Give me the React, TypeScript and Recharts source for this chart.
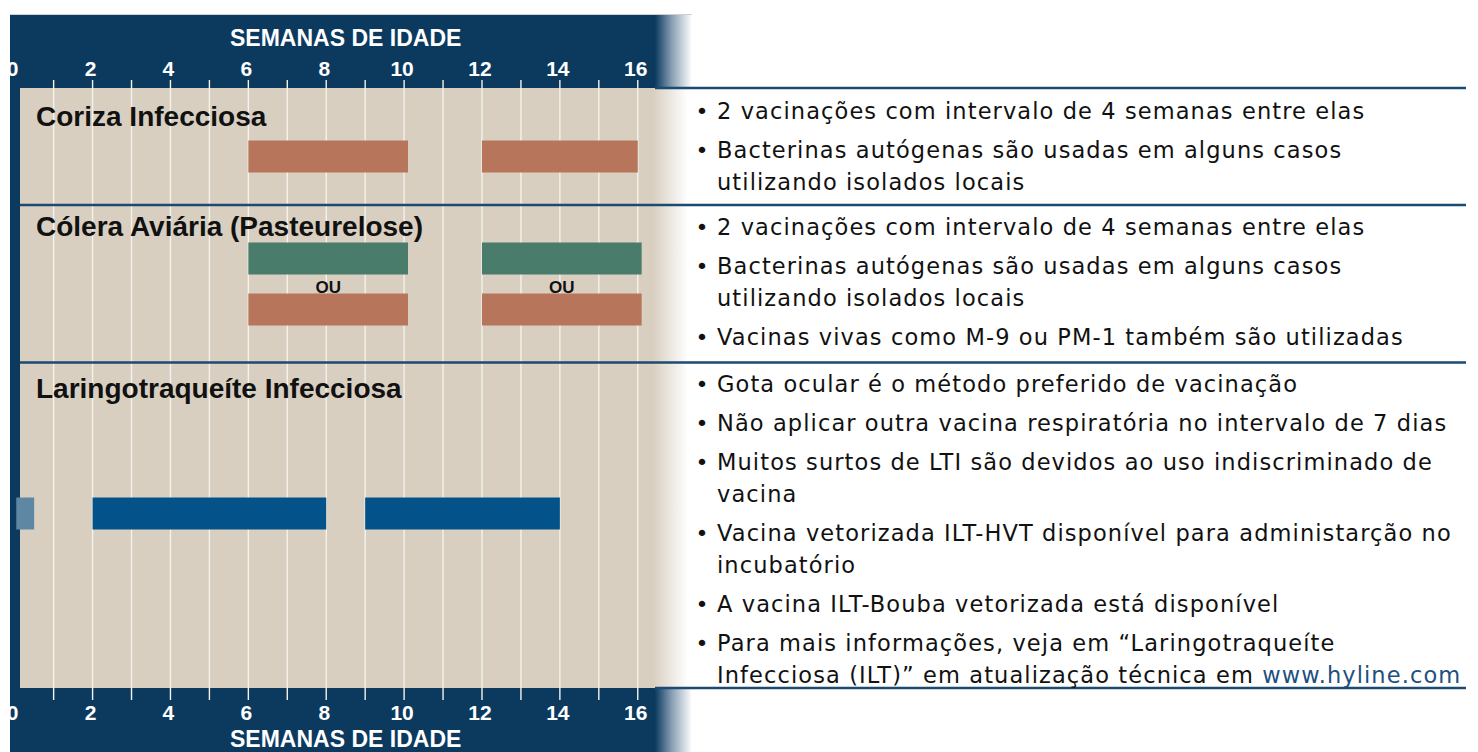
import { Bar, BarChart, CartesianGrid, Cell, LabelList, XAxis, YAxis } from 'recharts';

// linhas do quadro (de cima para baixo); as linhas "espaco" so separam as faixas
const linhas = ['coriza', 'espaco-a', 'colera-1', 'colera-2', 'espaco-b', 'espaco-c', 'espaco-d', 'lti'];

// semanas de idade de cada aplicação (início / fim)
const incubatorioInicio = [null, null, null, null, null, null, null, 0.04];
const incubatorioFim = [null, null, null, null, null, null, null, 0.5];
const primeiraInicio = [6, null, 6, 6, null, null, null, 2];
const primeiraFim = [10.1, null, 10.1, 10.1, null, null, null, 8];
const segundaInicio = [12, null, 12, 12, null, null, null, 9];
const segundaFim = [16, null, 16.1, 16.1, null, null, null, 14];
const rotuloEntre = [null, null, 'OU', null, null, null, null, null];

const semanasRotulo = [0, 2, 4, 6, 8, 10, 12, 14, 16];
const semanasGrade = [1, 2, 3, 4, 5, 6, 7, 8, 9, 10, 11, 12, 13, 14, 15, 16];

const doencas = ['Coriza Infecciosa', 'Cólera Aviária (Pasteurelose)', 'Laringotraqueíte Infecciosa'];

const notasCoriza = [
  ['2 vacinações com intervalo de 4 semanas entre elas'],
  ['Bacterinas autógenas são usadas em alguns casos', 'utilizando isolados locais'],
];
const notasColera = [
  ['2 vacinações com intervalo de 4 semanas entre elas'],
  ['Bacterinas autógenas são usadas em alguns casos', 'utilizando isolados locais'],
  ['Vacinas vivas como M-9 ou PM-1 também são utilizadas'],
];
const notasLti = [
  ['Gota ocular é o método preferido de vacinação'],
  ['Não aplicar outra vacina respiratória no intervalo de 7 dias'],
  ['Muitos surtos de LTI são devidos ao uso indiscriminado de', 'vacina'],
  ['Vacina vetorizada ILT-HVT disponível para administarção no', 'incubatório'],
  ['A vacina ILT-Bouba vetorizada está disponível'],
  ['Para mais informações, veja em “Laringotraqueíte', 'Infecciosa (ILT)” em atualização técnica em '],
];
const site = 'www.hyline.com';

const NAVY = '#0c3a5f';
const BEGE = '#d8cfc1';
const LINHA = '#1b4a72';
const corLinha: Record<string, string> = {
  coriza: '#b7765b',
  'colera-1': '#4a7c6b',
  'colera-2': '#b7765b',
  lti: '#03538a',
};

const dados = linhas.map((linha, i) => {
  const ini0 = incubatorioInicio[i] ?? 0;
  const fim0 = incubatorioFim[i] ?? ini0;
  const ini1 = primeiraInicio[i] ?? fim0;
  const fim1 = primeiraFim[i] ?? ini1;
  const ini2 = segundaInicio[i] ?? fim1;
  const fim2 = segundaFim[i] ?? ini2;
  return {
    linha,
    antes: ini0,
    incubatorio: fim0 - ini0,
    espera1: ini1 - fim0,
    primeira: fim1 - ini1,
    espera2: ini2 - fim1,
    segunda: fim2 - ini2,
    entre: rotuloEntre[i],
  };
});

const fonteTexto = "'DejaVu Sans', sans-serif";
const fonteTitulo = "'Liberation Sans', Arial, sans-serif";

function Notas({ itens, inicio }: { itens: string[][]; inicio: number }) {
  const out: JSX.Element[] = [];
  let y = inicio;
  itens.forEach((item, i) => {
    out.push(
      <text key={`b${i}`} x={702} y={y} textAnchor="middle" fontSize={22} fill="#111">•</text>
    );
    item.forEach((txt, j) => {
      const ultimo = i === itens.length - 1 && j === item.length - 1 && itens === notasLti;
      out.push(
        <text key={`t${i}-${j}`} x={717} y={y} fontSize={22.5} letterSpacing={1.1} fill="#111">
          {txt}
          {ultimo && <tspan fill="#1d4f80">{site}</tspan>}
        </text>
      );
      y += j < item.length - 1 ? 32 : 0;
    });
    y += 39;
  });
  return <g fontFamily={fonteTexto}>{out}</g>;
}

const eixoTick = { fill: '#fff', fontSize: 21, fontWeight: 700, dx: -2 };

export default function App() {
  return (
    <div style={{ position: 'absolute', left: 0, top: 0, width: 1478, height: 752, background: '#fff', overflow: 'hidden', fontFamily: fonteTitulo }}>
      {/* painel azul com esmaecimento à direita */}
      <div
        style={{
          position: 'absolute', left: 10, top: 14, width: 682, height: 738,
          background: `linear-gradient(to right, ${NAVY} 0px, ${NAVY} 645px, #8aa0b4 662px, #fff 682px)`,
          borderTop: '1px solid #cfcfcf',
        }}
      />
      <div
        style={{
          position: 'absolute', left: 20, top: 88, width: 672, height: 600,
          background: `linear-gradient(to right, ${BEGE} 0px, ${BEGE} 633px, #fff 668px)`,
        }}
      />

      <div style={{ position: 'absolute', left: 0, top: 0 }}>
        <BarChart
          width={700}
          height={752}
          data={dados}
          layout="vertical"
          margin={{ top: 14, right: 23.3, bottom: 0, left: 14.7 }}
          barSize={32}
        >
          <CartesianGrid xAxisId="topo" horizontal={false} verticalValues={semanasGrade} stroke="#f6f2ea" strokeWidth={1.4} />
          <XAxis
            xAxisId="topo"
            orientation="top"
            type="number"
            domain={[0, 17]}
            ticks={semanasRotulo}
            height={66}
            axisLine={false}
            tickLine={false}
            tickSize={0}
            tickMargin={4}
            tick={eixoTick}
            label={{ value: 'SEMANAS DE IDADE', position: 'insideTop', offset: 16, fill: '#fff', fontSize: 23, fontWeight: 700 }}
          />
          <XAxis
            xAxisId="base"
            orientation="bottom"
            type="number"
            domain={[0, 17]}
            allowDataOverflow
            ticks={semanasRotulo}
            height={52}
            axisLine={false}
            tickLine={false}
            tickSize={0}
            tickMargin={5}
            tick={eixoTick}
            label={{ value: 'SEMANAS DE IDADE', position: 'insideBottom', offset: 5, fill: '#fff', fontSize: 23, fontWeight: 700 }}
          />
          <YAxis type="category" dataKey="linha" hide padding={{ top: 50.5, bottom: 161.5 }} />
          <Bar xAxisId="topo" dataKey="antes" stackId="v" fill="transparent" isAnimationActive={false} />
          <Bar xAxisId="topo" dataKey="incubatorio" stackId="v" fill="#5d87a2" isAnimationActive={false} />
          <Bar xAxisId="topo" dataKey="espera1" stackId="v" fill="transparent" isAnimationActive={false} />
          <Bar xAxisId="topo" dataKey="primeira" stackId="v" isAnimationActive={false}>
            {dados.map((d) => (
              <Cell key={d.linha} fill={corLinha[d.linha] ?? 'transparent'} />
            ))}
            <LabelList dataKey="entre" position="bottom" offset={6} fill="#111" fontSize={17} fontWeight={700} />
          </Bar>
          <Bar xAxisId="topo" dataKey="espera2" stackId="v" fill="transparent" isAnimationActive={false} />
          <Bar xAxisId="topo" dataKey="segunda" stackId="v" isAnimationActive={false}>
            {dados.map((d) => (
              <Cell key={d.linha} fill={corLinha[d.linha] ?? 'transparent'} />
            ))}
            <LabelList dataKey="entre" position="bottom" offset={6} fill="#111" fontSize={17} fontWeight={700} />
          </Bar>
        </BarChart>
      </div>

      <svg width={1478} height={752} style={{ position: 'absolute', left: 0, top: 0, pointerEvents: 'none' }}>
        <line x1={655} x2={1466} y1={88} y2={88} stroke={LINHA} strokeWidth={2.4} />
        <line x1={20} x2={1466} y1={205} y2={205} stroke={LINHA} strokeWidth={2.4} />
        <line x1={20} x2={1466} y1={362.5} y2={362.5} stroke={LINHA} strokeWidth={2.4} />
        <line x1={655} x2={1466} y1={688} y2={688} stroke={LINHA} strokeWidth={2.4} />
        <g fontFamily={fonteTitulo} fontWeight={700} fontSize={28} fill="#111">
          <text x={36} y={126}>{doencas[0]}</text>
          <text x={36} y={235.5}>{doencas[1]}</text>
          <text x={36} y={397.5}>{doencas[2]}</text>
        </g>
        <Notas itens={notasCoriza} inicio={118.5} />
        <Notas itens={notasColera} inicio={235} />
        <Notas itens={notasLti} inicio={392} />
      </svg>
    </div>
  );
}
